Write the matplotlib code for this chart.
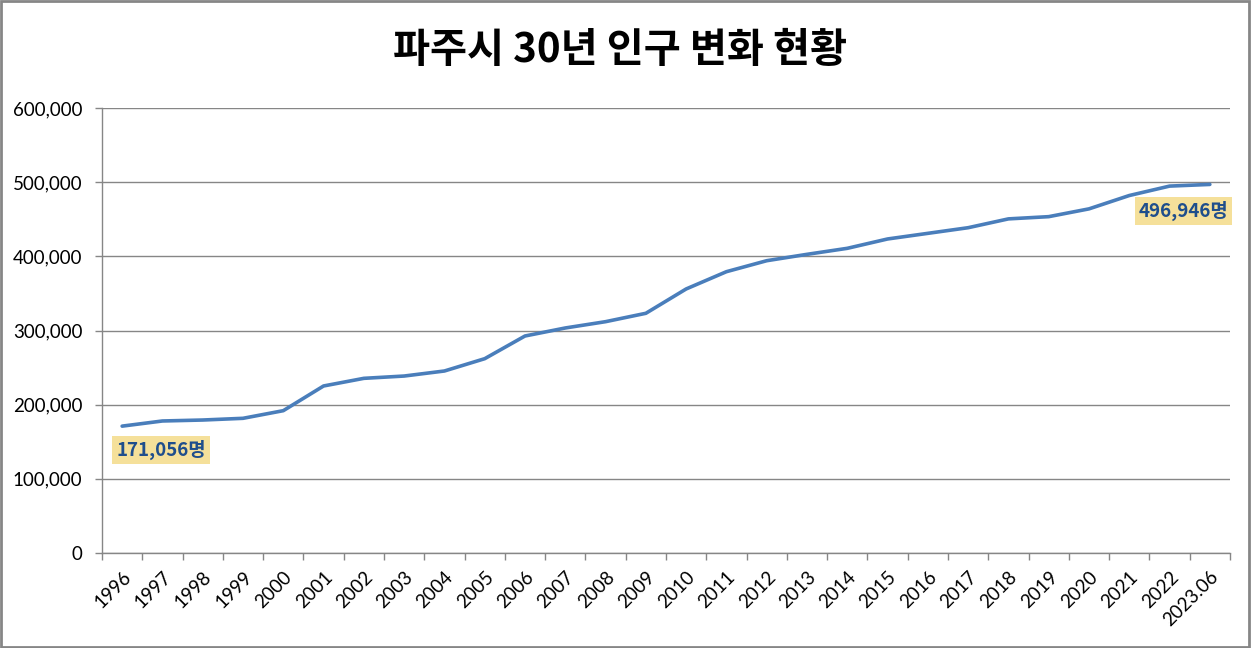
import matplotlib
matplotlib.use("Agg")
import matplotlib.pyplot as plt
from matplotlib.patches import Rectangle
from matplotlib.ticker import FuncFormatter, FixedLocator

years = ["1996", "1997", "1998", "1999", "2000", "2001", "2002", "2003", "2004",
         "2005", "2006", "2007", "2008", "2009", "2010", "2011", "2012", "2013",
         "2014", "2015", "2016", "2017", "2018", "2019", "2020", "2021", "2022",
         "2023.06"]
population = [171056, 178000, 179300, 181600, 191900, 225200, 235500, 238600,
              245400, 262000, 292600, 303400, 311900, 323200, 356000, 379300,
              394100, 402700, 410800, 423400, 431000, 438600, 450500, 453500,
              464000, 482000, 494700, 496946]
y_ticks = [0, 100000, 200000, 300000, 400000, 500000, 600000]
title = "파주시 30년 인구 변화 현황"

plt.rcParams['font.family'] = ['Lato', 'Noto Sans CJK KR', 'DejaVu Sans']

fig = plt.figure(figsize=(12.52, 6.48), dpi=100)
ax = fig.add_axes([102/1252, 1 - 553/648, (1230 - 102)/1252, (553 - 108)/648])

x = list(range(len(years)))
ax.plot(x, population, color='#4A7EBB', linewidth=2.6, solid_capstyle='round',
        solid_joinstyle='round', zorder=3)

ax.set_xlim(-0.5, len(years) - 0.5)
ax.set_ylim(0, 600000)
ax.set_yticks(y_ticks)
ax.yaxis.set_major_formatter(FuncFormatter(lambda v, p: f"{int(v):,}"))
ax.grid(axis='y', color='#868686', linewidth=1.0)
ax.set_axisbelow(True)

ax.set_xticks(x)
ax.set_xticklabels(years, rotation=45, ha='right', va='top',
                   rotation_mode='anchor', fontsize=13.5)
ax.xaxis.set_minor_locator(FixedLocator([i - 0.5 for i in range(len(years) + 1)]))
ax.tick_params(axis='x', which='major', length=0, pad=11)
ax.tick_params(axis='x', which='minor', length=5, color='#868686', width=1)
ax.tick_params(axis='y', which='major', length=5, color='#868686', width=1,
               labelsize=13.5, pad=9)

for s in ['top', 'right']:
    ax.spines[s].set_visible(False)
for s in ['left', 'bottom']:
    ax.spines[s].set_color('#868686')
    ax.spines[s].set_linewidth(1.0)

box = dict(boxstyle='square,pad=0.22', facecolor='#F5E09A', edgecolor='none')
ax.annotate(f"{population[0]:,}명", xy=(x[0], population[0]),
            xytext=(28, -17), textcoords='offset points', ha='center', va='center',
            fontsize=13.5, fontweight='bold', color='#1F4E8C',
            family=['Noto Sans CJK KR'], bbox=box)
ax.annotate(f"{population[-1]:,}명", xy=(x[-1], population[-1]),
            xytext=(-19, -19), textcoords='offset points', ha='center', va='center',
            fontsize=13.5, fontweight='bold', color='#1F4E8C',
            family=['Noto Sans CJK KR'], bbox=box)

fig.text(0.495, 0.922, title, ha='center', va='center', fontsize=29,
         fontweight='bold', family=['Noto Sans CJK KR'])

fig.patches.append(Rectangle((0.001, 0.002), 0.997, 0.996, transform=fig.transFigure,
                             fill=False, edgecolor='#868686', linewidth=2.0))

fig.savefig("out.png", dpi=100)
